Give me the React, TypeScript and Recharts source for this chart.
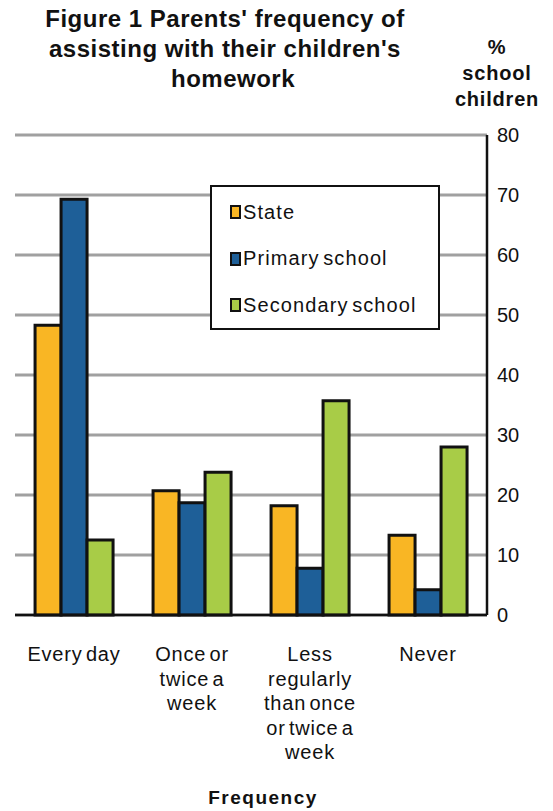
import React from 'react';
import { BarChart, Bar, XAxis, YAxis, CartesianGrid, Legend } from 'recharts';

const categories = ['Every day', 'Once or twice a week', 'Less regularly than once or twice a week', 'Never'];
const categoryLines = [
  ['Every day'],
  ['Once or', 'twice a', 'week'],
  ['Less', 'regularly', 'than once', 'or twice a', 'week'],
  ['Never'],
];
const stateValues = [48.3, 20.7, 18.2, 13.3];
const primaryValues = [69.3, 18.7, 7.8, 4.2];
const secondaryValues = [12.5, 23.8, 35.7, 28];
const yTicks = [0, 10, 20, 30, 40, 50, 60, 70, 80];
const seriesNames = ['State', 'Primary school', 'Secondary school'];
const seriesKeys = ['state', 'primary', 'secondary'];
const colors = ['#F9B624', '#1E5F98', '#A8CC47'];

const data = categories.map((c, i) => ({
  name: c,
  state: stateValues[i],
  primary: primaryValues[i],
  secondary: secondaryValues[i],
}));

const FONT = '"Liberation Sans", Arial, sans-serif';

const XTick = (props: any) => {
  const { x, y, index } = props;
  const lines = categoryLines[index] || [];
  return (
    <text
      x={x}
      y={y}
      textAnchor="middle"
      fontFamily={FONT}
      fontSize={20}
      fill="#111"
      style={{ letterSpacing: '0.8px', wordSpacing: '-3px' }}
    >
      {lines.map((l, i) => (
        <tspan key={i} x={x} dy={i === 0 ? 38 : 24.5}>
          {l}
        </tspan>
      ))}
    </text>
  );
};

const LegendContent = () => (
  <div
    style={{
      width: 230,
      height: 145,
      boxSizing: 'border-box',
      border: '2px solid #111',
      background: '#fff',
      fontFamily: FONT,
      fontSize: 20,
      letterSpacing: '1.1px',
      wordSpacing: '-3px',
      color: '#111',
      paddingLeft: 18,
      paddingTop: 2,
      whiteSpace: 'nowrap',
    }}
  >
    {seriesNames.map((n, i) => (
      <div key={n} style={{ display: 'flex', alignItems: 'center', height: 46.5 }}>
        <span
          style={{
            display: 'inline-block',
            width: 7,
            height: 10,
            background: colors[i],
            border: '2px solid #111',
            marginRight: 2,
          }}
        />
        <span>{n}</span>
      </div>
    ))}
  </div>
);

export default function App() {
  return (
    <div style={{ position: 'absolute', left: 0, top: 0, width: 553, height: 811, background: '#fff' }}>
      <div
        style={{
          position: 'absolute',
          left: 25,
          width: 400,
          top: 4,
          textAlign: 'center',
          fontFamily: FONT,
          fontWeight: 'bold',
          fontSize: 24,
          letterSpacing: '0.5px',
          lineHeight: '30px',
          color: '#111',
          whiteSpace: 'nowrap',
        }}
      >
        Figure 1 Parents' frequency of
        <br />
        assisting with their children's
        <br />
        <span style={{ position: 'relative', left: 8 }}>homework</span>
      </div>
      <div
        style={{
          position: 'absolute',
          left: 447,
          width: 100,
          top: 34,
          textAlign: 'center',
          fontFamily: FONT,
          fontWeight: 'bold',
          fontSize: 20,
          letterSpacing: '0.8px',
          lineHeight: '26px',
          color: '#111',
        }}
      >
        %
        <br />
        school
        <br />
        children
      </div>
      <BarChart
        width={553}
        height={811}
        data={data}
        margin={{ top: 135, right: 6, bottom: 166, left: 15 }}
        barCategoryGap="17%"
        barGap={0}
      >
        <CartesianGrid horizontal vertical={false} stroke="#a0a0a0" strokeWidth={3} />
        <XAxis
          dataKey="name"
          height={30}
          axisLine={{ stroke: '#111', strokeWidth: 2.5 }}
          tickLine={false}
          tick={<XTick />}
          interval={0}
        />
        <YAxis
          orientation="right"
          width={60}
          domain={[0, 80]}
          ticks={yTicks}
          axisLine={{ stroke: '#111', strokeWidth: 2.5 }}
          tickLine={false}
          tick={{ fill: '#111', fontSize: 20, fontFamily: FONT, textAnchor: 'start' }}
          tickMargin={4}
          interval={0}
        />
        <Legend
          layout="vertical"
          align="center"
          verticalAlign="middle"
          content={<LegendContent />}
          wrapperStyle={{ position: 'absolute', left: 210, top: 185, width: 230, height: 145 }}
        />
        {seriesKeys.map((k, i) => (
          <Bar
            key={k}
            dataKey={k}
            name={seriesNames[i]}
            fill={colors[i]}
            stroke="#111"
            strokeWidth={3}
            isAnimationActive={false}
          />
        ))}
      </BarChart>
      <div
        style={{
          position: 'absolute',
          left: 163,
          width: 200,
          top: 787,
          textAlign: 'center',
          fontFamily: FONT,
          fontWeight: 'bold',
          fontSize: 19,
          letterSpacing: '1.5px',
          color: '#111',
        }}
      >
        Frequency
      </div>
    </div>
  );
}
